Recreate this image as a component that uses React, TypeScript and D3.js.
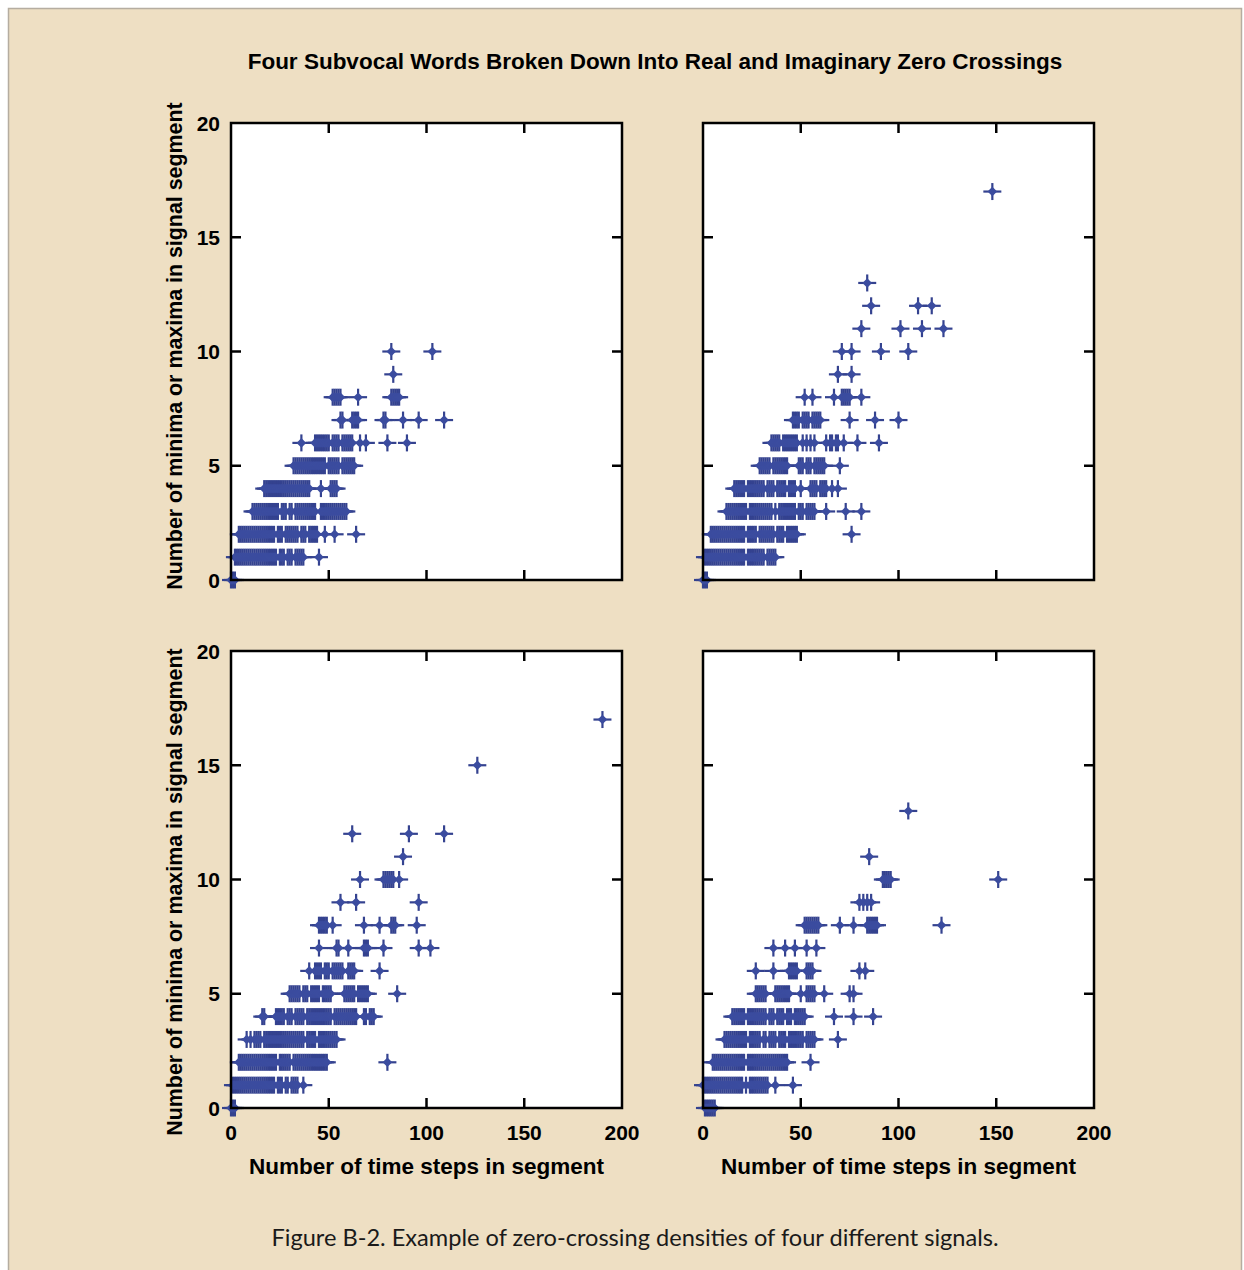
import React from "react";
import * as d3 from "d3";

// ---------- Data (rows: [y value, x values]) ----------
const panelA: [number, number[]][] = [
  [0, [0, 1, 2]],
  [1, [2, 3, 4, 5, 6, 7, 8, 9, 10, 11, 12, 13, 14, 15, 16, 17, 18, 19, 20, 21, 22, 23, 25, 26, 27, 29, 30, 31, 33, 34, 35, 36, 37, 45]],
  [2, [4, 5, 6, 7, 8, 9, 10, 11, 12, 13, 14, 15, 16, 17, 18, 19, 20, 21, 22, 24, 25, 26, 28, 29, 30, 31, 32, 33, 34, 36, 37, 38, 40, 41, 42, 43, 44, 48, 53, 64]],
  [3, [11, 12, 13, 14, 15, 16, 17, 18, 19, 20, 21, 22, 23, 24, 26, 27, 28, 30, 31, 33, 34, 35, 36, 37, 38, 39, 40, 41, 42, 43, 46, 47, 48, 49, 50, 51, 52, 53, 54, 55, 56, 57, 58, 59]],
  [4, [17, 18, 19, 20, 21, 22, 23, 24, 25, 26, 27, 28, 29, 30, 31, 32, 33, 34, 35, 36, 37, 38, 39, 40, 46, 51, 52, 53, 54]],
  [5, [32, 33, 34, 35, 36, 37, 38, 39, 40, 41, 42, 43, 44, 45, 46, 47, 48, 50, 51, 52, 53, 54, 55, 57, 58, 59, 60, 61, 62, 63]],
  [6, [36, 43, 44, 45, 46, 47, 48, 49, 50, 52, 53, 54, 55, 57, 58, 59, 60, 61, 62, 66, 69, 80, 90]],
  [7, [56, 57, 62, 63, 64, 65, 78, 79, 88, 96, 109]],
  [8, [52, 53, 54, 55, 56, 65, 82, 83, 84, 85, 86]],
  [9, [83]],
  [10, [82, 103]],
];

const panelB: [number, number[]][] = [
  [0, [0, 1, 2]],
  [1, [1, 2, 3, 4, 5, 6, 7, 8, 9, 10, 11, 12, 13, 14, 15, 16, 17, 18, 19, 20, 21, 23, 24, 25, 26, 27, 28, 29, 30, 31, 33, 34, 35, 36, 37]],
  [2, [4, 5, 6, 7, 8, 9, 10, 11, 12, 13, 14, 15, 16, 17, 18, 19, 20, 21, 23, 24, 25, 26, 27, 29, 30, 31, 32, 33, 34, 35, 36, 38, 39, 40, 41, 43, 44, 45, 46, 47, 48, 76]],
  [3, [12, 13, 14, 15, 16, 17, 18, 19, 20, 21, 22, 24, 25, 26, 27, 28, 29, 30, 31, 32, 33, 34, 35, 37, 39, 40, 41, 42, 43, 44, 45, 46, 47, 49, 50, 51, 53, 54, 55, 56, 57, 63, 73, 81]],
  [4, [16, 17, 18, 19, 20, 21, 23, 24, 25, 26, 27, 28, 29, 30, 31, 33, 34, 35, 36, 38, 39, 40, 41, 42, 44, 45, 46, 47, 50, 55, 56, 57, 58, 60, 61, 62, 63, 66, 69]],
  [5, [29, 30, 31, 32, 33, 34, 36, 37, 38, 39, 40, 41, 42, 43, 49, 50, 51, 53, 54, 55, 57, 58, 59, 60, 61, 62, 70]],
  [6, [35, 36, 37, 38, 39, 41, 42, 43, 44, 45, 46, 47, 48, 51, 53, 55, 57, 63, 65, 66, 68, 69, 72, 79, 90]],
  [7, [46, 47, 48, 49, 51, 52, 53, 54, 56, 57, 58, 59, 60, 75, 88, 100]],
  [8, [52, 56, 67, 71, 72, 73, 74, 75, 81]],
  [9, [69, 76]],
  [10, [71, 76, 91, 105]],
  [11, [81, 101, 112, 123]],
  [12, [86, 110, 117]],
  [13, [84]],
  [17, [148]],
];

const panelC: [number, number[]][] = [
  [0, [0, 1, 2]],
  [1, [1, 2, 3, 4, 5, 6, 7, 8, 9, 10, 11, 12, 13, 14, 15, 16, 17, 18, 19, 20, 21, 22, 24, 25, 26, 28, 29, 31, 32, 33, 34, 37]],
  [2, [4, 5, 6, 7, 8, 9, 10, 11, 12, 13, 14, 15, 16, 17, 18, 19, 20, 21, 22, 23, 25, 26, 27, 28, 29, 30, 32, 33, 34, 35, 36, 37, 38, 39, 40, 41, 42, 43, 44, 45, 46, 47, 48, 49, 80]],
  [3, [8, 10, 12, 13, 14, 15, 17, 18, 19, 20, 21, 22, 23, 24, 25, 26, 27, 28, 29, 30, 31, 32, 33, 34, 35, 36, 37, 39, 40, 41, 42, 43, 45, 46, 47, 48, 49, 50, 51, 52, 53, 54]],
  [4, [16, 17, 23, 24, 25, 26, 27, 29, 30, 31, 33, 34, 35, 36, 37, 39, 40, 41, 42, 43, 44, 45, 46, 47, 48, 49, 50, 51, 53, 54, 55, 56, 57, 58, 59, 60, 61, 62, 63, 64, 68, 69, 71, 72, 73]],
  [5, [30, 31, 32, 33, 34, 35, 37, 38, 39, 41, 42, 43, 44, 45, 47, 48, 49, 50, 51, 58, 59, 60, 61, 62, 63, 65, 66, 67, 68, 69, 70, 85]],
  [6, [40, 43, 44, 45, 46, 48, 49, 50, 52, 53, 54, 55, 56, 57, 60, 61, 62, 63, 76]],
  [7, [45, 54, 55, 60, 68, 69, 70, 78, 96, 102]],
  [8, [45, 46, 47, 48, 49, 52, 68, 76, 82, 83, 84, 95]],
  [9, [56, 64, 96]],
  [10, [66, 78, 79, 80, 81, 82, 83, 86]],
  [11, [88]],
  [12, [62, 91, 109]],
  [15, [126]],
  [17, [190]],
];

const panelD: [number, number[]][] = [
  [0, [1, 2, 3, 4, 5, 6]],
  [1, [0, 1, 2, 3, 4, 5, 6, 7, 8, 9, 10, 11, 12, 13, 14, 15, 16, 17, 18, 19, 20, 22, 24, 25, 26, 27, 28, 29, 30, 31, 32, 33, 37, 46]],
  [2, [5, 6, 7, 8, 9, 10, 11, 12, 13, 14, 15, 16, 17, 18, 19, 20, 21, 23, 24, 25, 26, 27, 28, 29, 30, 31, 32, 33, 34, 35, 36, 37, 38, 39, 40, 41, 42, 43, 55]],
  [3, [11, 12, 13, 14, 15, 16, 17, 18, 19, 20, 21, 22, 24, 25, 26, 27, 28, 29, 31, 32, 34, 35, 36, 37, 39, 40, 41, 42, 44, 45, 46, 47, 48, 49, 50, 51, 53, 54, 55, 56, 57, 69]],
  [4, [15, 16, 17, 18, 19, 20, 21, 23, 24, 25, 26, 27, 28, 29, 30, 31, 32, 34, 35, 36, 38, 39, 40, 41, 43, 44, 45, 47, 48, 49, 50, 51, 52, 67, 77, 87]],
  [5, [27, 28, 29, 30, 31, 32, 37, 38, 39, 40, 41, 42, 43, 44, 50, 53, 54, 55, 56, 57, 62, 75, 77]],
  [6, [27, 36, 44, 45, 46, 47, 48, 53, 54, 55, 56, 80, 83]],
  [7, [36, 42, 47, 53, 58]],
  [8, [52, 53, 54, 55, 56, 57, 58, 59, 70, 77, 84, 85, 86, 87, 88, 89, 122]],
  [9, [80, 82, 84, 86]],
  [10, [92, 93, 94, 95, 96, 151]],
  [11, [85]],
  [13, [105]],
];

const xTicks = [0, 50, 100, 150, 200];
const yTicks = [0, 5, 10, 15, 20];

const titleText = "Four Subvocal Words Broken Down Into Real and Imaginary Zero Crossings";
const xLabel = "Number of time steps in segment";
const yLabel = "Number of minima or maxima in signal segment";
const caption = "Figure B-2. Example of zero-crossing densities of four different signals.";

// ---------- Layout ----------
const W = 1244;
const H = 1270;
const PW = 391;
const PH = 457;
const FONT = "'Liberation Sans', Arial, Helvetica, sans-serif";
const FILL = "#3b4c9f";
const LINE = "#34428f";

type PanelProps = {
  data: [number, number[]][];
  left: number;
  top: number;
  showX: boolean;
  showY: boolean;
  yLabelCenter: number;
};

function Panel({ data, left, top, showX, showY, yLabelCenter }: PanelProps) {
  const x = d3.scaleLinear().domain([0, 200]).range([left, left + PW]);
  const y = d3.scaleLinear().domain([0, 20]).range([top + PH, top]);
  const pts: { x: number; y: number }[] = [];
  data.forEach(([yv, xs]) => xs.forEach((xv) => pts.push({ x: xv, y: yv })));
  const tickLen = 10;
  const innerX = xTicks.slice(1, -1);
  const innerY = yTicks.slice(1, -1);
  const diamond = "M0,-4.8L4.8,0L0,4.8L-4.8,0Z";
  return (
    <g>
      <rect x={left} y={top} width={PW} height={PH} fill="#ffffff" />
      <g stroke={LINE} strokeWidth={2.2}>
        {pts.map((p, i) => (
          <g key={"l" + i} transform={`translate(${x(p.x)},${y(p.y)})`}>
            <line x1={-9} x2={9} y1={0} y2={0} />
            <line x1={0} x2={0} y1={-8.5} y2={8.5} />
          </g>
        ))}
      </g>
      <g fill={FILL}>
        {pts.map((p, i) => (
          <path key={"d" + i} d={diamond} transform={`translate(${x(p.x)},${y(p.y)})`} />
        ))}
      </g>
      <g stroke="#000" strokeWidth={2.5}>
        {innerX.map((t) => (
          <g key={"xt" + t}>
            <line x1={x(t)} x2={x(t)} y1={top + PH} y2={top + PH - tickLen} />
            <line x1={x(t)} x2={x(t)} y1={top} y2={top + tickLen} />
          </g>
        ))}
        {innerY.map((t) => (
          <g key={"yt" + t}>
            <line x1={left} x2={left + tickLen} y1={y(t)} y2={y(t)} />
            <line x1={left + PW} x2={left + PW - tickLen} y1={y(t)} y2={y(t)} />
          </g>
        ))}
      </g>
      <rect x={left} y={top} width={PW} height={PH} fill="none" stroke="#000" strokeWidth={2.5} />
      {showY &&
        yTicks.map((t) => (
          <text key={"yl" + t} x={left - 11} y={y(t) + 7.5} textAnchor="end" fontFamily={FONT} fontWeight="bold" fontSize={21} fill="#000">
            {t}
          </text>
        ))}
      {showX &&
        xTicks.map((t) => (
          <text key={"xl" + t} x={x(t)} y={top + PH + 32} textAnchor="middle" fontFamily={FONT} fontWeight="bold" fontSize={21} fill="#000">
            {t}
          </text>
        ))}
      {showX && (
        <text x={left + PW / 2} y={top + PH + 66} textAnchor="middle" fontFamily={FONT} fontWeight="bold" fontSize={22.5} fill="#000">
          {xLabel}
        </text>
      )}
      {showY && (
        <text
          transform={`translate(${left - 49},${yLabelCenter}) rotate(-90)`}
          textAnchor="middle"
          fontFamily={FONT}
          fontWeight="bold"
          fontSize={21.4}
          fill="#000"
        >
          {yLabel}
        </text>
      )}
    </g>
  );
}

export default function App() {
  return (
    <svg width={W} height={H} style={{ position: "absolute", left: 0, top: 0, display: "block" }}>
      <rect x={0} y={0} width={W} height={H} fill="#ffffff" />
      <rect x={8.5} y={8.5} width={1233} height={1280} fill="#eedfc3" stroke="#b5ada0" strokeWidth={1.5} />
      <text x={655} y={69} textAnchor="middle" fontFamily={FONT} fontWeight="bold" fontSize={22.5} fill="#000">
        {titleText}
      </text>
      <Panel data={panelA} left={231} top={123} showX={false} showY={true} yLabelCenter={346} />
      <Panel data={panelB} left={703} top={123} showX={false} showY={false} yLabelCenter={346} />
      <Panel data={panelC} left={231} top={651} showX={true} showY={true} yLabelCenter={892} />
      <Panel data={panelD} left={703} top={651} showX={true} showY={false} yLabelCenter={892} />
      <text x={635} y={1246} textAnchor="middle" fontFamily="Lato, 'Open Sans', sans-serif" fontSize={23.6} fill="#1a1a1a">
        {caption}
      </text>
    </svg>
  );
}
